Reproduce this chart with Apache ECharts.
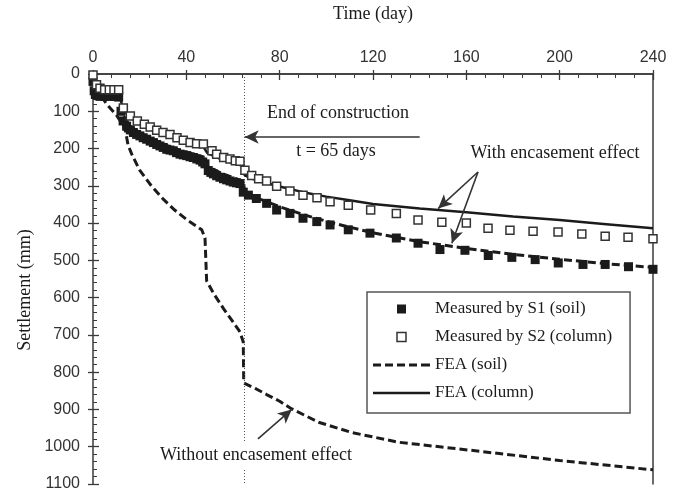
<!DOCTYPE html>
<html>
<head>
<meta charset="utf-8">
<script src="https://cdn.jsdelivr.net/npm/echarts@6/dist/echarts.min.js"></script>
<style>
  html, body { margin: 0; padding: 0; background: #fff; }
  #chart { width: 682px; height: 495px; }
</style>
</head>
<body>
<div id="chart"></div>
<script>
// Settlement history: measured points [day, mm] and FEA predictions [day, mm]
const s1Measured = [
  [0,20],[0.5,45],[1,55],[2,58],[3,60],[5,60],[7,60],[9,60],[11,62],[12,100],
  [12.9,126],[14.4,140],[16,150],[17.3,157],[18.7,162],[20.1,166],[21.5,171],[23,175],
  [24.5,180],[25.9,184],[27.3,189],[28.7,193],[30.1,197],[31.6,202],[33,204],[34.4,206],
  [35.8,211],[37.3,215],[38.7,217],[40.2,219],[41.6,222],[43,224],[44.5,228],[45.9,231],
  [47,236],[48,241],[49.4,259],[50.5,264],[51.6,268],[53,273],[54.4,277],[55.9,281],
  [57.3,284],[58.7,287],[60.1,290],[61.5,292],[63,294],
  [64.4,317],[66.6,325],[70,334],[74.4,347],[78.7,365],[84.4,374],[90,387],[95.9,396],
  [101.6,405],[109.4,418],[118.7,427],[130,440],[139.3,454],[148.7,471],[159.4,473],
  [169.4,487],[179.5,492],[189.5,498],[199.4,507],[210,511],[219.5,511],[229.5,517],[240,524]
];
const s2Measured = [
  [0,3],[1.5,29],[3,38],[5,42],[7,42],[9,42],[11,42],[13,91],[16,113],[19,126],
  [22,135],[24.5,142],[27.3,151],[30,157],[33,162],[36,171],[38.7,178],[41.6,184],
  [44.4,187],[47.3,188],[51,206],[53,215],[56,224],[58.7,228],[61,233],[63,234],
  [65.1,258],[68,272],[71,281],[74.4,287],[78.7,301],[84.4,314],[90,325],[96,332],
  [101.6,343],[109.4,352],[119,365],[130,374],[139.3,392],[149.5,398],[160,400],
  [169.3,414],[178.7,419],[188.6,422],[199.3,424],[209.5,429],[219.5,435],[229.3,438],[240,442]
];
const feaColumn = [
  [0,0],[1,35],[11,50],[13,95],[16,117],[20,134],[25,149],[30,162],[35,173],[40,183],
  [47,192],[49,212],[55,229],[60,239],[64.5,247],[65,272],[70,285],[80,302],[90,317],
  [100,329],[110,339],[120,349],[140,361],[160,371],[180,382],[200,392],[220,403],[240,414]
];
const feaSoil = [
  [0,0],[1,42],[11,62],[13,112],[16,140],[20,158],[25,174],[30,188],[35,200],[40,210],
  [47,222],[49,248],[55,266],[60,278],[64.5,288],[65,318],[70,332],[80,356],[90,377],
  [100,395],[110,411],[120,426],[140,450],[160,468],[180,484],[200,497],[220,509],[240,519]
];
const feaSoilNoEncasement = [
  [0,0],[2,45],[6,82],[10,110],[13,138],[14,155],[15,190],[16.6,215],[20,258],[25,300],
  [30,335],[35,365],[40,390],[46.6,418],[48,440],[48.7,555],[52,592],[56,630],[60,665],
  [63,692],[64.4,719],[64.6,829],[70,845],[74.4,860],[80,878],[85,898],[97,935],
  [111,962],[131,988],[157,1006],[200,1037],[240,1062]
];
const timeTicks = { min: 0, max: 240, step: 40 };
const settlementTicks = { min: 0, max: 1100, step: 100 };
const endOfConstructionDay = 65;

// Annotation arrows: [from, to] in [day, mm]
const arrowEndOfConstruction = [[140,169],[65,169]];
const arrowsWithEncasement = [
  [[165,263],[147.9,361]],
  [[165,263],[153.8,454]]
];
const arrowWithoutEncasement = [[70.7,979],[85.2,900]];

const serif = "'Liberation Serif', 'Times New Roman', serif";
const sans = "'Liberation Sans', Arial, sans-serif";
const ink = '#1b1b1b';
const axisInk = '#3a3a3a';

const chart = echarts.init(document.getElementById('chart'), null, { renderer: 'canvas' });

function arrowLines(pairs) {
  return pairs.map(p => [{ coord: p[0] }, { coord: p[1] }]);
}

const squarePath = 'path://M0,0h10v10h-10z';
const solidPath = 'path://M0,0h57v2.6h-57z';
const dashPath = 'path://M0,0h8v3h-8zM12,0h8v3h-8zM24,0h8v3h-8zM36,0h8v3h-8zM48,0h9v3h-9z';

const option = {
  backgroundColor: '#fff',
  animation: false,
  grid: { left: 93, right: 29, top: 69, bottom: 11, containLabel: false },
  xAxis: [
    {
      type: 'value', position: 'top', gridIndex: 0,
      min: timeTicks.min, max: timeTicks.max, interval: timeTicks.step,
      name: 'Time (day)', nameLocation: 'middle', nameGap: 51,
      nameTextStyle: { fontFamily: serif, fontSize: 18, color: ink },
      axisLine: { lineStyle: { color: axisInk, width: 1.5 } },
      axisTick: { inside: true, length: 6, lineStyle: { color: axisInk, width: 1.3 } },
      minorTick: { show: true, splitNumber: 5, length: 4, lineStyle: { color: axisInk, width: 1 } },
      axisLabel: { fontFamily: sans, fontSize: 16, color: '#333', margin: 8 },
      splitLine: { show: false }
    },
    {
      type: 'value', position: 'top', gridIndex: 0,
      min: timeTicks.min, max: timeTicks.max, interval: timeTicks.step,
      axisLine: { show: false },
      axisTick: { inside: false, length: 4, lineStyle: { color: axisInk, width: 1.3 } },
      axisLabel: { show: false }, splitLine: { show: false }
    },
    {
      type: 'value', position: 'bottom', gridIndex: 0,
      min: timeTicks.min, max: timeTicks.max,
      axisLine: { lineStyle: { color: axisInk, width: 1.5 } },
      axisTick: { show: false }, axisLabel: { show: false }, splitLine: { show: false }
    }
  ],
  yAxis: [
    {
      type: 'value', position: 'left', inverse: true, gridIndex: 0,
      min: settlementTicks.min, max: settlementTicks.max, interval: settlementTicks.step,
      axisLine: { onZero: false, lineStyle: { color: axisInk, width: 1.5 } },
      axisTick: { inside: true, length: 6, lineStyle: { color: axisInk, width: 1.3 } },
      minorTick: { show: true, splitNumber: 5, length: 4, lineStyle: { color: axisInk, width: 1 } },
      axisLabel: { fontFamily: sans, fontSize: 16, color: '#333', margin: 13, formatter: v => String(v) },
      splitLine: { show: false }
    },
    {
      type: 'value', position: 'left', inverse: true, gridIndex: 0,
      min: settlementTicks.min, max: settlementTicks.max, interval: settlementTicks.step,
      axisLine: { show: false },
      axisTick: { inside: false, length: 5, lineStyle: { color: axisInk, width: 1.3 } },
      axisLabel: { show: false }, splitLine: { show: false }
    },
    {
      type: 'value', position: 'right', inverse: true, gridIndex: 0,
      min: settlementTicks.min, max: settlementTicks.max,
      axisLine: { onZero: false, lineStyle: { color: axisInk, width: 1.5 } },
      axisTick: { show: false }, axisLabel: { show: false }, splitLine: { show: false }
    }
  ],
  legend: {
    orient: 'vertical', left: 367, top: 292,
    padding: [7, 18, 10, 6],
    itemWidth: 57, itemHeight: 9, itemGap: 8,
    borderColor: '#555', borderWidth: 1.5, backgroundColor: '#fff',
    selectedMode: false,
    textStyle: { fontFamily: serif, fontSize: 17, color: ink, lineHeight: 20 },
    data: [
      { name: 'Measured by S1 (soil)', icon: squarePath, itemStyle: { color: ink, borderWidth: 0 } },
      { name: 'Measured by S2 (column)', icon: squarePath, itemStyle: { color: '#fff', borderColor: '#333', borderWidth: 1.5 } },
      { name: 'FEA (soil)', icon: dashPath, itemStyle: { color: ink, borderWidth: 0 } },
      { name: 'FEA (column)', icon: solidPath, itemStyle: { color: ink, borderWidth: 0 } }
    ]
  },
  series: [
    {
      name: 'FEA (soil)', type: 'line', data: feaSoilNoEncasement,
      symbol: 'none', z: 3,
      lineStyle: { color: ink, width: 3, type: [8, 4] },
      markLine: {
        silent: true, symbol: ['none', 'arrow'], symbolSize: [10, 14],
        label: { show: false },
        lineStyle: { color: '#333', width: 1.6, type: 'solid' },
        data: arrowLines([arrowWithoutEncasement])
      }
    },
    {
      name: 'FEA (soil)', type: 'line', data: feaSoil,
      symbol: 'none', z: 3,
      lineStyle: { color: ink, width: 3, type: [8, 4] }
    },
    {
      name: 'FEA (column)', type: 'line', data: feaColumn,
      symbol: 'none', z: 4,
      lineStyle: { color: ink, width: 2.5 },
      markLine: {
        silent: true, symbol: ['none', 'arrow'], symbolSize: [10, 14],
        label: { show: false },
        lineStyle: { color: '#333', width: 1.6, type: 'solid' },
        data: arrowLines(arrowsWithEncasement).concat(arrowLines([arrowEndOfConstruction]))
      }
    },
    {
      name: 'Measured by S1 (soil)', type: 'scatter', data: s1Measured,
      symbol: 'rect', symbolSize: 9, z: 5,
      itemStyle: { color: ink, opacity: 1 }
    },
    {
      name: 'Measured by S2 (column)', type: 'scatter', data: s2Measured,
      symbol: 'rect', symbolSize: 8, z: 6,
      itemStyle: { color: '#fff', borderColor: '#333', borderWidth: 1.5, opacity: 1 },
      markLine: {
        silent: true, symbol: 'none', label: { show: false },
        lineStyle: { color: '#555', width: 1, type: [1, 2] },
        data: [{ xAxis: endOfConstructionDay }]
      }
    }
  ],
  graphic: [
    {
      type: 'text', x: 25, y: 290, rotation: Math.PI / 2,
      style: { text: 'Settlement (mm)', x: 0, y: 0, fontFamily: serif, fontSize: 18, fill: ink, align: 'center', verticalAlign: 'middle' }
    },
    {
      type: 'text', z: 20,
      style: { text: 'End of construction', x: 338, y: 113, align: 'center', verticalAlign: 'middle', fontFamily: serif, fontSize: 18, fill: ink }
    },
    {
      type: 'text', z: 20,
      style: { text: 't = 65 days', x: 336, y: 151, align: 'center', verticalAlign: 'middle', fontFamily: serif, fontSize: 18, fill: ink }
    },
    {
      type: 'text', z: 20,
      style: { text: 'With encasement effect', x: 555, y: 153, align: 'center', verticalAlign: 'middle', fontFamily: serif, fontSize: 18, fill: ink }
    },
    {
      type: 'text', z: 20,
      style: { text: 'Without encasement effect', x: 256, y: 455, align: 'center', verticalAlign: 'middle', fontFamily: serif, fontSize: 18, fill: ink, backgroundColor: '#fff', padding: [5, 6, 5, 6] }
    }
  ]
};

chart.setOption(option);
</script>
</body>
</html>
